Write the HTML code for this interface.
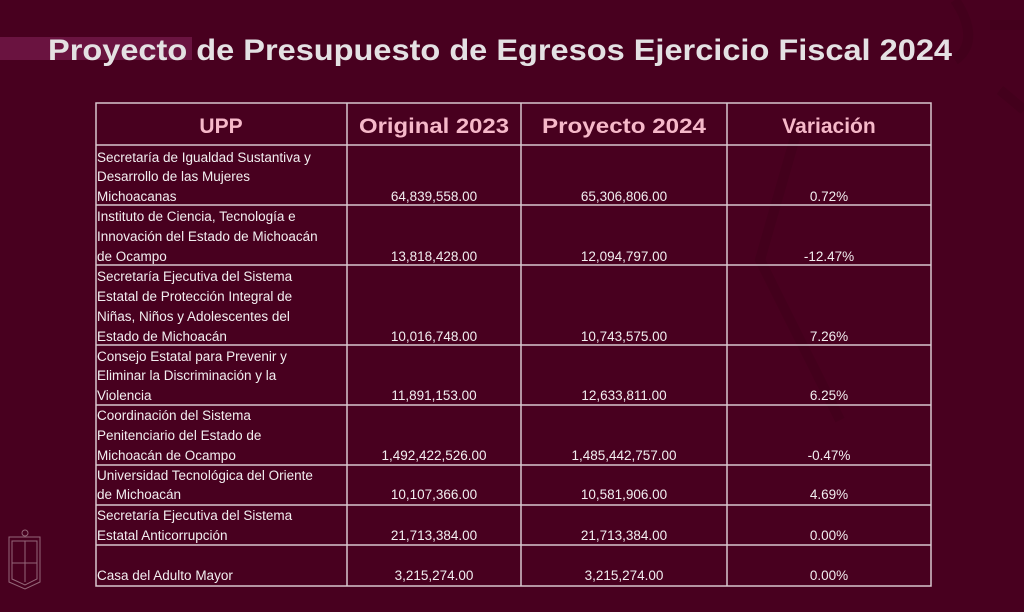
<!DOCTYPE html>
<html><head><meta charset="utf-8"><style>
html,body{margin:0;padding:0;background:#48001f;}
svg{display:block}
text{font-family:"Liberation Sans",sans-serif;}
</style></head><body>
<svg width="1024" height="612" viewBox="0 0 1024 612" xmlns="http://www.w3.org/2000/svg">
<rect width="1024" height="612" fill="#48001f"/>
<g fill="none" stroke="#43001c" stroke-width="10">
<path d="M955 0 C975 30 970 50 955 60"/>
<path d="M990 25 L1024 25"/>
<path d="M800 120 L760 260 L840 420"/>
<path d="M1000 90 L1024 110"/>
</g>
<rect x="0" y="37" width="192" height="23" fill="#6a1340"/>
<text x="48" y="60" font-size="30" font-weight="bold" fill="#e4e1e3" textLength="904" lengthAdjust="spacingAndGlyphs">Proyecto de Presupuesto de Egresos Ejercicio Fiscal 2024</text>
<g stroke="#d8c6cd" stroke-width="1.5" fill="none">
<rect x="96" y="103" width="835" height="483"/>
<line x1="347" y1="103" x2="347" y2="586"/>
<line x1="521" y1="103" x2="521" y2="586"/>
<line x1="727" y1="103" x2="727" y2="586"/>
<line x1="96" y1="145" x2="931" y2="145"/>
<line x1="96" y1="205" x2="931" y2="205"/>
<line x1="96" y1="265" x2="931" y2="265"/>
<line x1="96" y1="345" x2="931" y2="345"/>
<line x1="96" y1="405" x2="931" y2="405"/>
<line x1="96" y1="465" x2="931" y2="465"/>
<line x1="96" y1="505" x2="931" y2="505"/>
<line x1="96" y1="545" x2="931" y2="545"/>
</g>
<g font-size="21" font-weight="bold" fill="#f6b8c9" text-anchor="middle">
<text x="221" y="133">UPP</text>
<text x="434" y="133" textLength="150" lengthAdjust="spacingAndGlyphs">Original 2023</text>
<text x="624" y="133" textLength="164" lengthAdjust="spacingAndGlyphs">Proyecto 2024</text>
<text x="829" y="133">Variación</text>
</g>
<g font-size="13.5" fill="#f2eef0">
<text x="97" y="162">Secretaría de Igualdad Sustantiva y</text>
<text x="97" y="181">Desarrollo de las Mujeres</text>
<text x="97" y="201">Michoacanas</text>
<text x="97" y="221">Instituto de Ciencia, Tecnología e</text>
<text x="97" y="241">Innovación del Estado de Michoacán</text>
<text x="97" y="261">de Ocampo</text>
<text x="97" y="281">Secretaría Ejecutiva del Sistema</text>
<text x="97" y="301">Estatal de Protección Integral de</text>
<text x="97" y="321">Niñas, Niños y Adolescentes del</text>
<text x="97" y="341">Estado de Michoacán</text>
<text x="97" y="361">Consejo Estatal para Prevenir y</text>
<text x="97" y="380">Eliminar la Discriminación y la</text>
<text x="97" y="400">Violencia</text>
<text x="97" y="420">Coordinación del Sistema</text>
<text x="97" y="440">Penitenciario del Estado de</text>
<text x="97" y="460">Michoacán de Ocampo</text>
<text x="97" y="480">Universidad Tecnológica del Oriente</text>
<text x="97" y="499">de Michoacán</text>
<text x="97" y="520">Secretaría Ejecutiva del Sistema</text>
<text x="97" y="540">Estatal Anticorrupción</text>
<text x="97" y="580">Casa del Adulto Mayor</text>
</g>
<g font-size="13.5" fill="#f2eef0" text-anchor="middle">
<text x="434" y="201">64,839,558.00</text><text x="624" y="201">65,306,806.00</text><text x="829" y="201">0.72%</text>
<text x="434" y="261">13,818,428.00</text><text x="624" y="261">12,094,797.00</text><text x="829" y="261">-12.47%</text>
<text x="434" y="341">10,016,748.00</text><text x="624" y="341">10,743,575.00</text><text x="829" y="341">7.26%</text>
<text x="434" y="400">11,891,153.00</text><text x="624" y="400">12,633,811.00</text><text x="829" y="400">6.25%</text>
<text x="434" y="460">1,492,422,526.00</text><text x="624" y="460">1,485,442,757.00</text><text x="829" y="460">-0.47%</text>
<text x="434" y="499">10,107,366.00</text><text x="624" y="499">10,581,906.00</text><text x="829" y="499">4.69%</text>
<text x="434" y="540">21,713,384.00</text><text x="624" y="540">21,713,384.00</text><text x="829" y="540">0.00%</text>
<text x="434" y="580">3,215,274.00</text><text x="624" y="580">3,215,274.00</text><text x="829" y="580">0.00%</text>
</g>
<g stroke="#a8808f" stroke-width="1" fill="none" opacity="0.8">
<path d="M9 537 L40 537 L40 582 L25 589 L9 582 Z"/>
<path d="M12 541 L37 541 L37 579 L25 585 L12 579 Z"/>
<line x1="25" y1="541" x2="25" y2="582"/>
<line x1="12" y1="563" x2="37" y2="563"/>
<circle cx="25" cy="533" r="3"/>
</g>
</svg>
</body></html>
